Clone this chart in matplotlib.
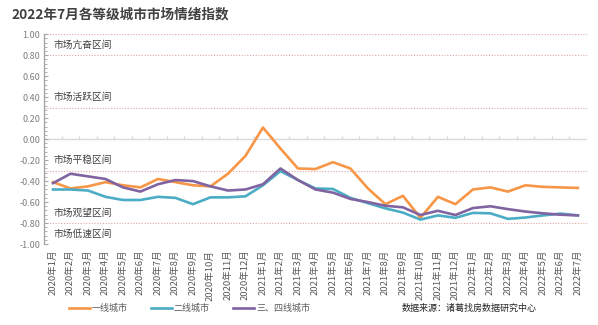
import matplotlib
matplotlib.use("Agg")
import matplotlib.pyplot as plt
import numpy as np
from matplotlib.ticker import MultipleLocator, FormatStrFormatter

plt.rcParams['font.family'] = ['Noto Sans CJK SC', 'DejaVu Sans']
plt.rcParams['axes.unicode_minus'] = False

# months 2020-01 .. 2022-07
months = [f"{y}年{m}月" for y in (2020, 2021, 2022) for m in range(1, 13)][:31]

tier1 = [-0.41, -0.47, -0.45, -0.41, -0.44, -0.46, -0.38, -0.41, -0.44, -0.45,
         -0.33, -0.16, 0.11, -0.09, -0.28, -0.285, -0.22, -0.28, -0.47, -0.62,
         -0.54, -0.75, -0.55, -0.62, -0.48, -0.46, -0.50, -0.44, -0.455, -0.46, -0.465]
tier2 = [-0.48, -0.48, -0.49, -0.55, -0.58, -0.58, -0.55, -0.56, -0.62, -0.555,
         -0.555, -0.545, -0.44, -0.305, -0.39, -0.47, -0.475, -0.56, -0.61, -0.66,
         -0.70, -0.767, -0.727, -0.75, -0.703, -0.707, -0.76, -0.747, -0.727, -0.71, -0.727]
tier34 = [-0.42, -0.33, -0.355, -0.38, -0.46, -0.50, -0.43, -0.39, -0.40, -0.45,
          -0.49, -0.48, -0.43, -0.28, -0.39, -0.48, -0.51, -0.57, -0.60, -0.635,
          -0.65, -0.723, -0.683, -0.723, -0.657, -0.64, -0.667, -0.69, -0.707, -0.72, -0.727]

series_names = ["一线城市", "二线城市", "三、四线城市"]
colors = ["#F79646", "#4BACC6", "#8064A2"]

# zone boundaries and labels
bounds = [1.0, 0.8, 0.3, -0.3, -0.8, -1.0]
zone_labels = ["市场亢奋区间", "市场活跃区间", "市场平稳区间", "市场观望区间", "市场低速区间"]
zone_label_y = [0.9, 0.4, -0.2, -0.7, -0.9]

fig = plt.figure(figsize=(5.98, 3.25), dpi=100)
ax = fig.add_axes([0.074, 0.249, 0.907, 0.646])

x = np.arange(len(months))
for vals, name, c in zip([tier1, tier2, tier34], series_names, colors):
    ax.plot(x, vals, color=c, lw=1.9, label=name, solid_joinstyle='round')

for b in bounds:
    ax.axhline(b, color="#E3A3A3", lw=0.8, ls=(0, (1, 1.5)), zorder=0)

ax.axhline(0, color="#D9D9D9", lw=1, zorder=0)
ax.vlines(x[:-1] + 0.5, 0, 0.03, color="#D9D9D9", lw=1, zorder=0)

for t, yy in zip(zone_labels, zone_label_y):
    ax.text(0.0, yy, t, fontsize=7, color="#404040", va="center", ha="left")

ax.set_xlim(-0.5, len(months) - 0.5)
ax.set_ylim(-1.0, 1.0)
ax.yaxis.set_major_locator(MultipleLocator(0.2))
ax.yaxis.set_minor_locator(MultipleLocator(0.04))
ax.yaxis.set_major_formatter(FormatStrFormatter("%.2f"))
ax.tick_params(axis="y", which="major", direction="in", length=3, color="#A6A6A6",
               labelsize=6.5, labelcolor="#7F7F7F", pad=3)
ax.tick_params(axis="y", which="minor", direction="in", length=2, color="#A6A6A6")

ax.set_xticks(x)
ax.set_xticklabels(months, rotation=90, fontsize=6.8, color="#595959")
ax.tick_params(axis="x", length=0, pad=4)

for s in ["top", "right", "bottom"]:
    ax.spines[s].set_visible(False)
ax.spines["left"].set_color("#A6A6A6")
ax.spines["left"].set_linewidth(1)

fig.text(0.02, 0.955, "2022年7月各等级城市市场情绪指数", fontsize=9.8,
         fontweight="bold", color="#404040", va="center", ha="left")

fig.legend(loc="center", bbox_to_anchor=(0.317, 0.052), ncol=3, frameon=False,
           fontsize=6.5, handlelength=2.3, columnspacing=2.6, handletextpad=0.2,
           labelcolor="#595959")

fig.text(0.672, 0.052, "数据来源：诸葛找房数据研究中心", fontsize=6.5,
         color="#262626", va="center", ha="left")

fig.savefig("out.png", dpi=100)
